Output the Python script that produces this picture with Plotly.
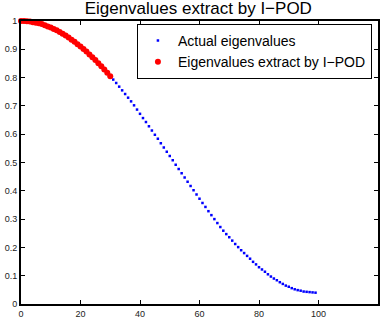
import plotly.graph_objects as go

# Eigenvalue index (0..99)
index = list(range(100))

# Actual eigenvalues
actual = [
    1.000, 1.000, 0.999, 0.998, 0.996, 0.994, 0.992, 0.989, 0.985, 0.981,
    0.977, 0.972, 0.967, 0.961, 0.955, 0.949, 0.942, 0.934, 0.927, 0.918,
    0.910, 0.901, 0.892, 0.882, 0.872, 0.862, 0.851, 0.840, 0.829, 0.817,
    0.805, 0.793, 0.781, 0.768, 0.755, 0.742, 0.729, 0.716, 0.702, 0.687,
    0.672, 0.657, 0.643, 0.628, 0.613, 0.598, 0.584, 0.568, 0.553, 0.538,
    0.523, 0.508, 0.492, 0.477, 0.462, 0.447, 0.432, 0.417, 0.402, 0.387,
    0.372, 0.357, 0.343, 0.328, 0.314, 0.300, 0.286, 0.272, 0.259, 0.247,
    0.236, 0.224, 0.212, 0.201, 0.190, 0.180, 0.170, 0.160, 0.149, 0.140,
    0.130, 0.122, 0.114, 0.105, 0.097, 0.090, 0.084, 0.077, 0.071, 0.065,
    0.061, 0.056, 0.052, 0.049, 0.047, 0.044, 0.043, 0.042, 0.041, 0.040,
]

# Eigenvalues extracted by I-POD (first 31)
ipod_index = list(range(31))
ipod = actual[:31]

x_ticks = [0, 20, 40, 60, 80, 100, 120]
y_ticks = [0, 0.1, 0.2, 0.3, 0.4, 0.5, 0.6, 0.7, 0.8, 0.9, 1]
y_tick_labels = ["0", "0.1", "0.2", "0.3", "0.4", "0.5", "0.6", "0.7", "0.8", "0.9", "1"]

FONT = "Liberation Sans, Helvetica, Arial, sans-serif"

fig = go.Figure()
fig.add_trace(go.Scatter(
    x=index, y=actual, mode="markers", name="Actual eigenvalues",
    marker=dict(symbol="square", size=2.5, color="#0000ff", line=dict(width=0)),
    cliponaxis=False,
))
fig.add_trace(go.Scatter(
    x=ipod_index, y=ipod, mode="markers", name="Eigenvalues extract by I\u2212POD",
    marker=dict(symbol="circle", size=6, color="#ff0000", line=dict(width=0)),
    cliponaxis=False,
))

axis_common = dict(
    showline=True, linecolor="black", linewidth=2, mirror="ticks",
    ticks="inside", ticklen=4, tickwidth=1, tickcolor="black",
    showgrid=False, zeroline=False,
    tickfont=dict(family=FONT, size=9, color="#222"),
)

fig.update_layout(
    width=385, height=324,
    margin=dict(l=20, r=5, t=21, b=20),
    paper_bgcolor="white", plot_bgcolor="white",
    title=dict(text="Eigenvalues extract by I\u2212POD", x=0.515, xanchor="center",
               y=0.995, yanchor="top",
               font=dict(family=FONT, size=17, color="black")),
    xaxis=dict(range=[0, 120], tickvals=x_ticks, **axis_common),
    yaxis=dict(range=[0, 1], tickvals=y_ticks, ticktext=y_tick_labels, **axis_common),
    legend=dict(x=0.983, y=0.99, xanchor="right", yanchor="top",
                bgcolor="white", bordercolor="black", borderwidth=1,
                font=dict(family=FONT, size=14, color="black"),
                itemsizing="trace", itemwidth=30, tracegroupgap=0),
    showlegend=True,
)

fig.write_html("out.html")
